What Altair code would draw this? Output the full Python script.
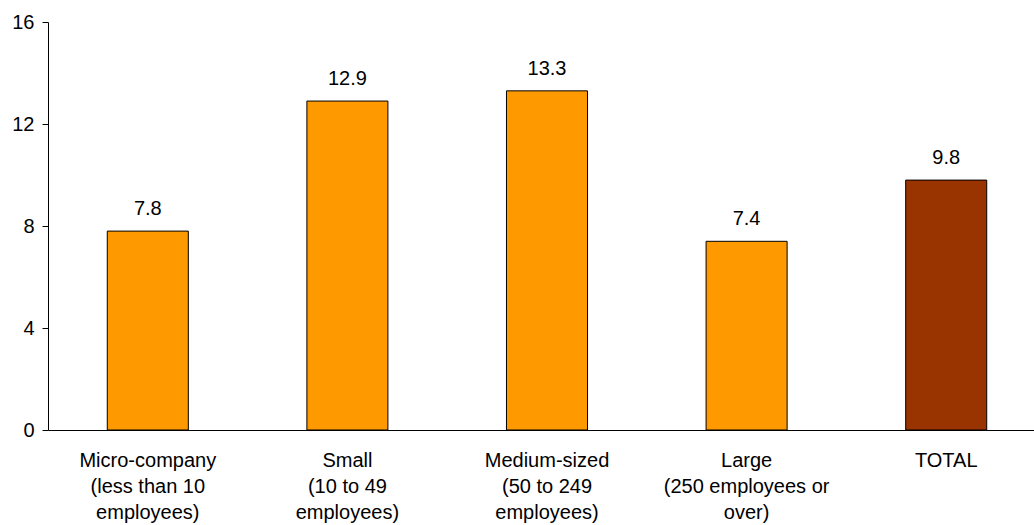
import altair as alt
import pandas as pd

categories = ["Micro-company|(less than 10|employees)", "Small|(10 to 49|employees)",
              "Medium-sized|(50 to 249|employees)", "Large|(250 employees or|over)", "TOTAL"]
values = [7.8, 12.9, 13.3, 7.4, 9.8]
colors = ["#FF9900", "#FF9900", "#FF9900", "#FF9900", "#993300"]

df = pd.DataFrame({"cat": categories, "val": values, "color": colors})

FONT = "Liberation Sans"

base = alt.Chart(df).encode(
    x=alt.X("cat:N", sort=categories, title=None,
            scale=alt.Scale(paddingInner=0.594, paddingOuter=0.297, range=[0, 998]),
            axis=alt.Axis(labelExpr="split(datum.label, '|')", labelAngle=0,
                          labelFontSize=20, labelFont=FONT, labelColor="#000",
                          labelLineHeight=25.8, labelPadding=20.5, ticks=False,
                          domainColor="#000", labelBaseline="top")),
    y=alt.Y("val:Q", title=None,
            scale=alt.Scale(domain=[0, 16], nice=False),
            axis=alt.Axis(values=[0, 4, 8, 12, 16], grid=False, tickSize=6,
                          tickColor="#000", domainColor="#000",
                          labelFontSize=20, labelFont=FONT, labelColor="#000",
                          labelPadding=8)),
)

bars = base.mark_bar(stroke="#000", strokeWidth=1).encode(
    color=alt.Color("color:N", scale=None)
)
text = base.mark_text(dy=-16, baseline="alphabetic", fontSize=20, font=FONT, color="#000").encode(
    text=alt.Text("val:Q", format=".1f")
)

chart = (bars + text).properties(
    width=986, height=408,
    padding={"left": 48, "top": 22, "right": 0, "bottom": 95},
    autosize="none",
).configure_view(stroke=None)

chart.save("out.html", embed_options={"renderer": "svg", "actions": False})
